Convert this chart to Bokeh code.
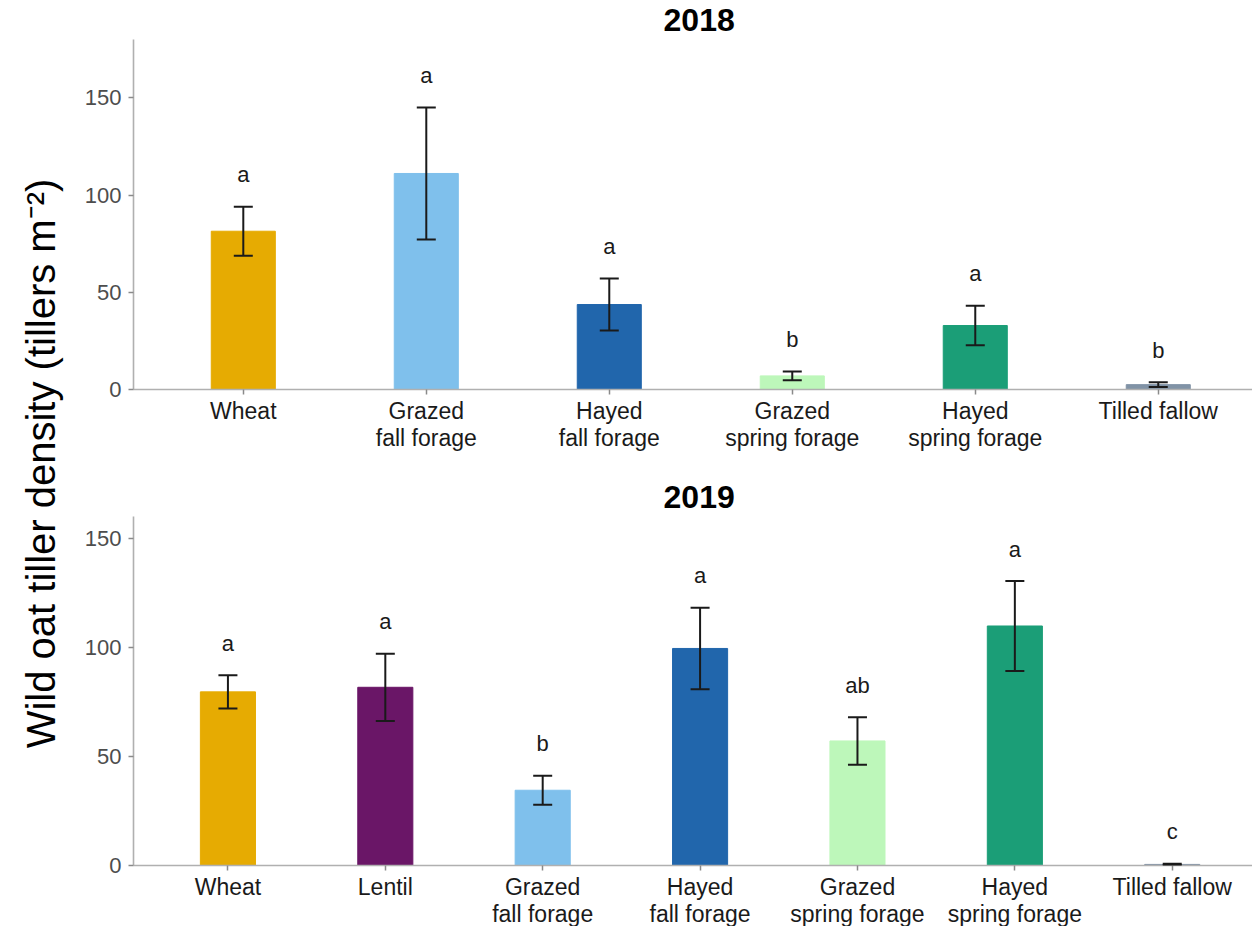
from bokeh.plotting import figure
from bokeh.models import (ColumnDataSource, Whisker, TeeHead, FixedTicker, Range1d,
                          Label, LinearAxis)
from bokeh.layouts import row, column
from bokeh.embed import file_html
from bokeh.resources import INLINE
from bokeh.core.properties import value

# ---------------- data ----------------
labels_2018 = ["Wheat", "Grazed\nfall forage", "Hayed\nfall forage",
               "Grazed\nspring forage", "Hayed\nspring forage", "Tilled fallow"]
means_2018 = [81.4, 111.1, 43.7, 7.0, 32.9, 2.5]
se_2018 = [12.6, 33.9, 13.4, 2.3, 10.2, 1.2]
letters_2018 = ["a", "a", "a", "b", "a", "b"]
colors_2018 = ["#E6AB02", "#7FC0EC", "#2166AC", "#BDF7BA", "#1B9E77", "#8193A6"]

labels_2019 = ["Wheat", "Lentil", "Grazed\nfall forage", "Hayed\nfall forage",
               "Grazed\nspring forage", "Hayed\nspring forage", "Tilled fallow"]
means_2019 = [79.6, 81.7, 34.5, 99.5, 57.1, 109.8, 0.5]
se_2019 = [7.6, 15.4, 6.6, 18.7, 10.9, 20.6, 0.3]
letters_2019 = ["a", "a", "b", "a", "ab", "a", "c"]
colors_2019 = ["#E6AB02", "#6A1667", "#7FC0EC", "#2166AC", "#BDF7BA", "#1B9E77", "#8193A6"]

y_ticks = [0, 50, 100, 150]
y_label = "Wild oat tiller density (tillers m\u207B\u00B2)"

FONT = "Liberation Sans"
FRAME_W = 1119
LEFT = 67
LABEL_W = 66
TITLE_H = 39


def title_fig(text):
    w = LEFT + FRAME_W
    t = figure(width=w, height=TITLE_H, x_range=Range1d(0, w), y_range=Range1d(0, TITLE_H),
               x_axis_type=None, y_axis_type=None,
               toolbar_location=None, output_backend="svg", min_border=0)
    t.grid.visible = False
    t.outline_line_color = None
    t.add_layout(Label(x=LEFT + FRAME_W / 2 - 27, y=19.3, text=text,
                       text_font=FONT, text_font_size="32px", text_font_style="bold",
                       text_color="black", text_align="center", text_baseline="middle"))
    return t


def panel(labels, means, se, letters, colors, ymax, xend, frame_h, bottom):
    n = len(labels)
    xs = list(range(1, n + 1))
    src = ColumnDataSource(dict(
        x=xs, top=means, color=colors, letter=letters,
        upper=[m + s for m, s in zip(means, se)],
        lower=[m - s for m, s in zip(means, se)],
    ))
    p = figure(frame_width=FRAME_W, frame_height=frame_h,
               x_range=Range1d(0.4, xend), y_range=Range1d(0, ymax),
               toolbar_location=None, output_backend="svg",
               min_border_left=LEFT, min_border_right=0,
               min_border_top=0, min_border_bottom=bottom)

    p.vbar(x="x", top="top", bottom=0, width=0.35, color="color", source=src)
    head = dict(size=19, line_color="#1a1a1a", line_width=2)
    wh = Whisker(base="x", upper="upper", lower="lower", source=src,
                 line_color="#1a1a1a", line_width=2, level="overlay",
                 upper_head=TeeHead(**head), lower_head=TeeHead(**head))
    p.add_layout(wh)
    p.text(x="x", y="upper", text="letter", source=src, y_offset=-32,
           text_font=value(FONT), text_font_size="22px", text_color="#1a1a1a",
           text_align="center", text_baseline="middle")

    p.xgrid.visible = False
    p.ygrid.visible = False
    p.outline_line_color = None
    p.background_fill_color = "white"

    first = {i: lab.split("\n")[0] for i, lab in zip(xs, labels)}
    second = {i: (lab.split("\n")[1] if "\n" in lab else " ") for i, lab in zip(xs, labels)}

    p.xaxis.ticker = FixedTicker(ticks=xs)
    p.xaxis.major_label_overrides = first
    p.yaxis.ticker = FixedTicker(ticks=y_ticks)
    for ax in (p.xaxis, p.yaxis):
        ax.axis_line_color = "#b0b0b0"
        ax.axis_line_width = 1.6
        ax.major_tick_line_color = "#8a8a8a"
        ax.major_tick_line_width = 1.5
        ax.major_tick_out = 5
        ax.major_tick_in = 0
        ax.minor_tick_line_color = None
        ax.major_label_text_font = FONT
        ax.major_label_text_font_size = "23px"
    p.xaxis.major_label_standoff = 3
    p.yaxis.major_label_standoff = 7
    p.yaxis.major_label_text_font_size = "22px"
    p.xaxis.major_label_text_color = "#1a1a1a"
    p.yaxis.major_label_text_color = "#4d4d4d"

    ax2 = LinearAxis(ticker=FixedTicker(ticks=xs), major_label_overrides=second,
                     axis_line_color=None, major_tick_line_color=None,
                     minor_tick_line_color=None, major_tick_out=0, major_tick_in=0,
                     major_label_standoff=-2, major_label_text_font=FONT,
                     major_label_text_font_size="23px",
                     major_label_text_color="#1a1a1a")
    p.add_layout(ax2, "below")
    return p


t1 = title_fig("2018")
p1 = panel(labels_2018, means_2018, se_2018, letters_2018, colors_2018,
           180, 6.515, 350, 88)
t2 = title_fig("2019")
p2 = panel(labels_2019, means_2019, se_2019, letters_2019, colors_2019,
           160, 7.51, 349, 60)

# shared y-axis title as an axis label on a narrow strip
p0 = figure(frame_width=4, height=926, x_range=Range1d(0, 1), y_range=Range1d(0, 1),
            x_axis_type=None,
            toolbar_location=None, output_backend="svg",
            min_border_left=LABEL_W - 4, min_border_right=0,
            min_border_top=0, min_border_bottom=0)
p0.grid.visible = False
p0.outline_line_color = None
p0.yaxis.axis_label = y_label
p0.yaxis.axis_label_text_font = FONT
p0.yaxis.axis_label_text_font_size = "40px"
p0.yaxis.axis_label_text_font_style = "normal"
p0.yaxis.axis_label_text_color = "black"
p0.yaxis.axis_label_standoff = 0
p0.yaxis.axis_line_color = None
p0.yaxis.major_tick_line_color = None
p0.yaxis.minor_tick_line_color = None
p0.yaxis.major_tick_out = 0
p0.yaxis.major_label_text_font_size = "0px"
p0.yaxis.major_label_standoff = 0
p0.yaxis.ticker = FixedTicker(ticks=[])

layout = row(p0, column(t1, p1, t2, p2, spacing=0), spacing=0)
open("out.html", "w").write(file_html(layout, INLINE))
